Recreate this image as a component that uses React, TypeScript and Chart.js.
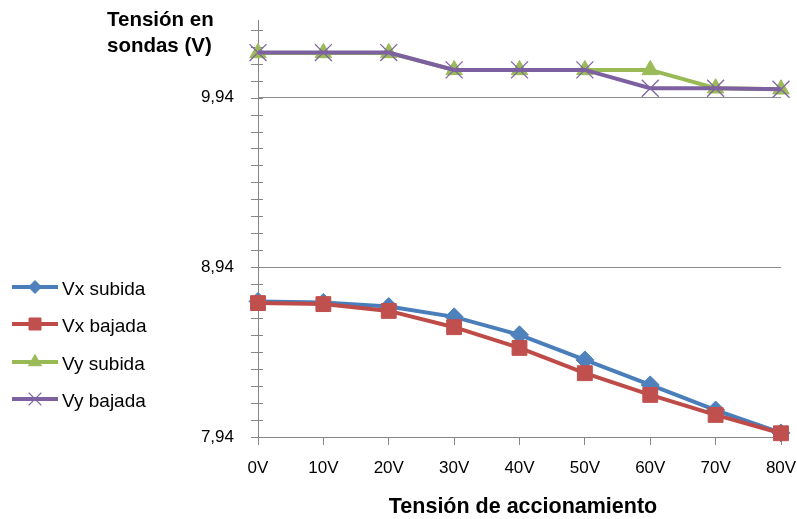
import React, { useEffect, useRef } from 'react';
import { Chart, registerables } from 'chart.js';
import { drawPoint } from 'chart.js/helpers';

Chart.register(...registerables);

const categories = ['0V', '10V', '20V', '30V', '40V', '50V', '60V', '70V', '80V'];
const seriesNames = ['Vx subida', 'Vx bajada', 'Vy subida', 'Vy bajada'];
const vxSubida = [8.739, 8.733, 8.709, 8.648, 8.542, 8.394, 8.247, 8.099, 7.964];
const vxBajada = [8.729, 8.723, 8.683, 8.587, 8.465, 8.316, 8.188, 8.07, 7.962];
const vySubida = [10.203, 10.203, 10.203, 10.103, 10.103, 10.103, 10.103, 9.995, 9.989];
const vyBajada = [10.205, 10.205, 10.205, 10.103, 10.103, 10.103, 9.995, 9.995, 9.989];
const yTicks = [7.94, 8.94, 9.94];
const yTickLabels = ['7,94', '8,94', '9,94'];
const yMin = 7.94;
const yMax = 10.397;
const yMinorStep = 0.1;
const yTitleLines = ['Tensión en', 'sondas (V)'];
const xTitle = 'Tensión de accionamiento';

const FONT = "'Liberation Sans', Arial, sans-serif";
const AXIS = '#868686';
const GRID = '#8c8c8c';

const lineColors = ['#4A7EBB', '#BE4B48', '#98B954', '#7D60A0'];
const markerColors = ['#4F81BD', '#C0504D', '#9BBB59', '#8064A2'];
const markerStyles = ['rectRot', 'rect', 'triangle', 'crossRot'];
const markerRadius = [9, 10.5, 9.5, 12];
const legendRadius = [6.5, 8.5, 7.5, 9];
const markerBorder = [1, 1, 1, 1.3];

const decor = {
  id: 'decor',
  beforeDatasetsDraw(chart: any) {
    const ctx = chart.ctx;
    const y = chart.scales.y;
    const x0 = chart.chartArea.left;
    ctx.save();
    ctx.strokeStyle = AXIS;
    ctx.lineWidth = 1;
    for (let k = 0; ; k++) {
      const v = yMin + k * yMinorStep;
      if (v > yMax + 1e-9) break;
      const py = Math.round(y.getPixelForValue(v)) + 0.5;
      ctx.beginPath();
      ctx.moveTo(x0 - 7, py);
      ctx.lineTo(x0 + 5, py);
      ctx.stroke();
    }
    ctx.restore();
  },
  afterDraw(chart: any) {
    const ctx = chart.ctx;
    ctx.save();
    const rows = [287, 324, 362, 399];
    seriesNames.forEach((name, i) => {
      const ry = rows[i];
      ctx.strokeStyle = lineColors[i];
      ctx.lineWidth = 4;
      ctx.beginPath();
      ctx.moveTo(12, ry);
      ctx.lineTo(58, ry);
      ctx.stroke();
      ctx.fillStyle = markerColors[i];
      ctx.strokeStyle = markerColors[i];
      ctx.lineWidth = markerBorder[i];
      drawPoint(ctx, { pointStyle: markerStyles[i], radius: legendRadius[i], rotation: 0, borderWidth: markerBorder[i] } as any, 35, ry);
      ctx.fillStyle = '#000';
      ctx.font = `19px ${FONT}`;
      ctx.textAlign = 'left';
      ctx.textBaseline = 'alphabetic';
      ctx.fillText(name, 62, ry + 8);
    });
    ctx.fillStyle = '#000';
    ctx.font = `bold 20.5px ${FONT}`;
    ctx.textAlign = 'left';
    ctx.textBaseline = 'alphabetic';
    ctx.fillText(yTitleLines[0], 107, 25.5);
    ctx.fillText(yTitleLines[1], 107, 52);
    ctx.font = `bold 21.5px ${FONT}`;
    ctx.textAlign = 'center';
    ctx.fillText(xTitle, 523, 513);
    ctx.restore();
  },
};

export default function App() {
  const ref = useRef<HTMLCanvasElement>(null);
  useEffect(() => {
    if (!ref.current) return;
    const data = [vxSubida, vxBajada, vySubida, vyBajada];
    const chart = new Chart(ref.current, {
      type: 'line',
      data: {
        labels: categories,
        datasets: data.map((d, i) => ({
          label: seriesNames[i],
          data: d,
          borderColor: lineColors[i],
          backgroundColor: markerColors[i],
          borderWidth: 4,
          pointStyle: markerStyles[i] as any,
          pointRadius: markerRadius[i],
          pointBackgroundColor: markerColors[i],
          pointBorderColor: markerColors[i],
          pointBorderWidth: markerBorder[i],
          tension: 0,
          fill: false,
          order: 3 - i,
          clip: false as any,
        })),
      },
      options: {
        animation: false,
        responsive: false,
        maintainAspectRatio: false,
        layout: { padding: { top: 20, right: 16, left: 0, bottom: 0 } },
        plugins: { legend: { display: false }, tooltip: { enabled: false } },
        scales: {
          x: {
            type: 'category',
            offset: false,
            grid: { display: true, drawOnChartArea: false, drawTicks: true, tickLength: 8, color: AXIS },
            border: { display: true, color: AXIS, width: 1 },
            ticks: { color: '#000', font: { family: FONT, size: 17 }, padding: 13, maxRotation: 0, autoSkip: false },
            afterFit: (s: any) => { s.height = 82; s.paddingLeft = 0; s.paddingRight = 0; },
          },
          y: {
            type: 'linear',
            min: yMin,
            max: yMax,
            grid: {
              display: true,
              drawTicks: false,
              color: (c: any) => (c.index === 0 ? 'rgba(0,0,0,0)' : GRID),
              lineWidth: 1,
            },
            border: { display: true, color: AXIS, width: 1 },
            ticks: {
              color: '#000',
              font: { family: FONT, size: 17 },
              padding: 24,
              callback: (_v: any, idx: number) => yTickLabels[idx],
            },
            afterBuildTicks: (axis: any) => { axis.ticks = yTicks.map((v) => ({ value: v })); },
            afterFit: (s: any) => { s.width = 258; s.paddingTop = 0; s.paddingBottom = 0; },
          },
        },
      },
      plugins: [decor],
    });
    return () => chart.destroy();
  }, []);
  return (
    <div style={{ position: 'absolute', left: 0, top: 0, width: 797, height: 519, background: '#fff' }}>
      <canvas ref={ref} width={797} height={519} style={{ display: 'block' }} />
    </div>
  );
}
